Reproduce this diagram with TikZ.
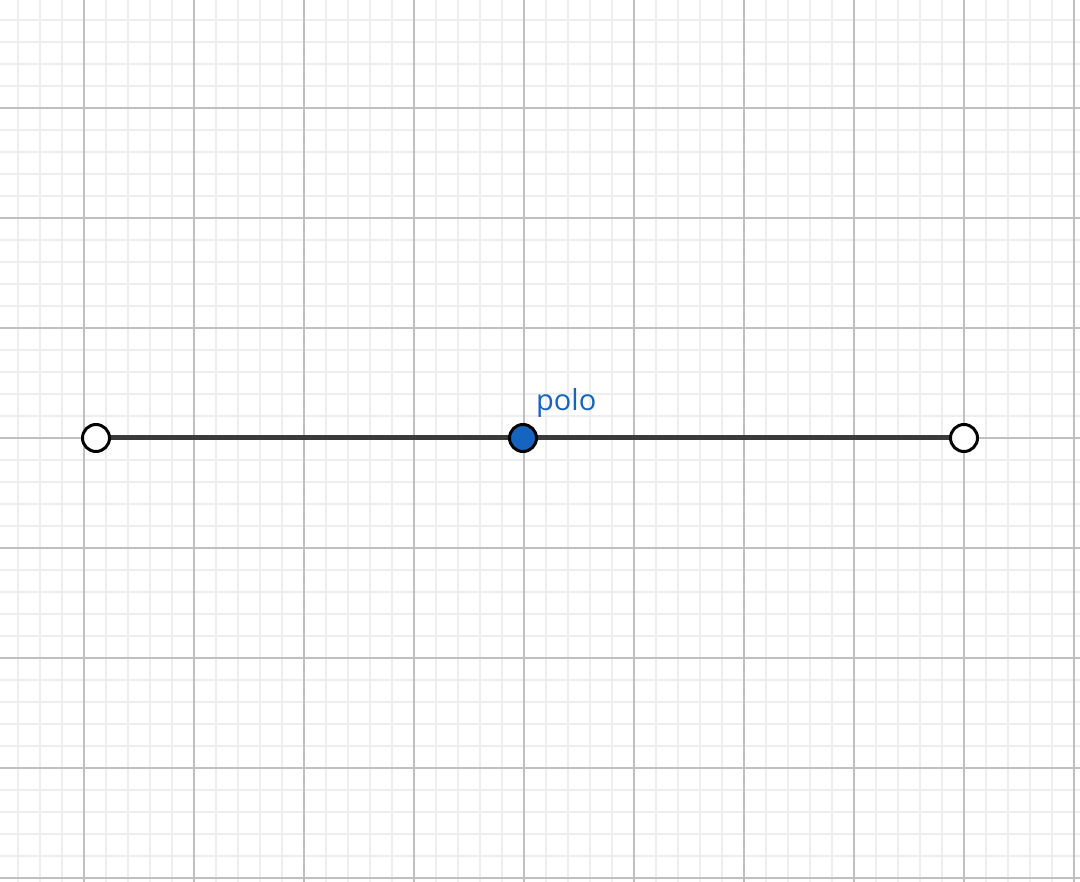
\documentclass[tikz,border=0pt]{standalone}
\usepackage{fontspec}
\setmainfont{Open Sans}
\definecolor{minorgrid}{RGB}{238,238,238}
\definecolor{majorgrid}{RGB}{192,192,192}
\definecolor{segcol}{RGB}{58,58,58}
\definecolor{poloblue}{RGB}{21,101,192}
\tikzset{
  minorline/.style={draw=minorgrid, line width=2.2pt},
  majorline/.style={draw=majorgrid, line width=2.4pt},
  segment/.style={draw=segcol, line width=5pt},
  openpt/.style={circle, draw=black, line width=3pt, fill=white, minimum size=27pt, inner sep=0pt},
  polopt/.style={circle, draw=black, line width=3pt, fill=poloblue, minimum size=27pt, inner sep=0pt},
  lbl/.style={text=poloblue, font=\fontsize{29}{34}\selectfont, inner sep=0pt, anchor=base west}
}
\begin{document}
\begin{tikzpicture}[x=1pt,y=-1pt]
\useasboundingbox (0,0) rectangle (1080,882);
\fill[white] (0,0) rectangle (1080,882);
% minor grid
\foreach \k in {0,...,48} { \draw[minorline] ({18+22*\k},0) -- ({18+22*\k},882); }
\foreach \k in {0,...,39} { \draw[minorline] (0,{20+22*\k}) -- (1080,{20+22*\k}); }
% major grid
\foreach \k in {0,...,9} { \draw[majorline] ({84+110*\k},0) -- ({84+110*\k},882); }
\foreach \k in {0,...,7} { \draw[majorline] (0,{108+110*\k}) -- (1080,{108+110*\k}); }
% segment
\coordinate (L) at (96,438);
\coordinate (P) at (523,438);
\coordinate (R) at (964,438);
\draw[segment] (L) -- (R);
\node[openpt] (Lpt) at (L) {};
\node[openpt] (Rpt) at (R) {};
\node[polopt] (Ppt) at (P) {};
\node[lbl] (polo) at (536,411) {polo};
\end{tikzpicture}
\end{document}
